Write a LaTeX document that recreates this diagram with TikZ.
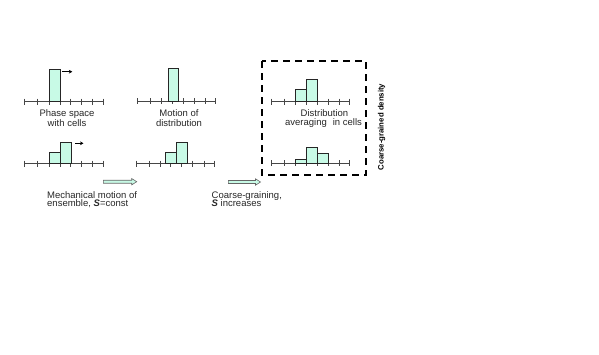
\documentclass[tikz,border=0pt]{standalone}
\usepackage{fontspec}
\setmainfont{Liberation Sans}
\usetikzlibrary{arrows.meta}
\definecolor{barfill}{RGB}{200,250,230}
\definecolor{axisgray}{RGB}{70,70,70}
\tikzset{
  axisline/.style={draw=axisgray, line width=0.8pt},
  bar/.style={draw=black!85, line width=0.8pt, fill=barfill},
  lbl/.style={font=\fontsize{9.5}{10}\selectfont, inner sep=0pt, text=black!85},
  hollow/.style={draw=black!60, fill=barfill, line width=0.6pt},
  movearrow/.style={draw=black, line width=0.8pt, -{Stealth[length=3.5pt,width=3.8pt]}},
  dashbox/.style={draw=black, line width=2.1pt, dash pattern=on 7pt off 5pt}
}
\newcommand{\drawaxis}[4]{% y, first x, last x, tick list
  \draw[axisline] (#2,#1) -- (#3,#1);
  \foreach \tx in {#4} { \draw[axisline] (\tx,#1-3) -- (\tx,#1+3); }
}
\newcommand{\hollowarrow}[3]{% x0, x1, y
  \draw[hollow] (#1,#3-1.5) -- (#2-5,#3-1.5) -- (#2-5,#3-3.2) -- (#2,#3)
    -- (#2-5,#3+3.2) -- (#2-5,#3+1.5) -- (#1,#3+1.5) -- cycle;
}
\begin{document}
\begin{tikzpicture}[x=1pt,y=-1pt]
\useasboundingbox (0,0) rectangle (599,354);

% --- top left: phase space with cells
\drawaxis{101.5}{24.5}{103.3}{24.5,37.8,49.3,60,70.8,81.7,92.7,103.3}
\draw[bar] (49.3,101.5) rectangle (60,69);
\coordinate (m1s) at (62.3,71.7);
\coordinate (m1e) at (72.3,71.7);
\draw[movearrow] (m1s) -- (m1e);
\node[lbl, anchor=base] (t1a) at (67,116) {Phase space};
\node[lbl, anchor=base] (t1b) at (67,126) {with cells};

% --- top middle: motion of distribution
\drawaxis{101}{137.3}{215.7}{137.3,150.7,161.7,172.3,183.3,194,205,215.7}
\draw[bar] (168.3,101) rectangle (178.3,68.3);
\node[lbl, anchor=base] (t2a) at (179,116) {Motion of};
\node[lbl, anchor=base] (t2b) at (179,126) {distribution};

% --- bottom left
\drawaxis{163.5}{24.5}{103.3}{24.5,37.8,49.3,60,70.8,81.7,92.7,103.3}
\draw[bar] (49.3,163.5) rectangle (60,152.7);
\draw[bar] (60,163.5) rectangle (71,142.3);
\coordinate (m2s) at (75,143.3);
\coordinate (m2e) at (83.5,143.3);
\draw[movearrow] (m2s) -- (m2e);

% --- bottom middle
\drawaxis{163.5}{136}{214}{136,149,160,170.7,181.7,192.7,204,214}
\draw[bar] (165.7,163.5) rectangle (176,152.7);
\draw[bar] (176,163.5) rectangle (187.3,142.3);

% --- right: coarse-grained (inside dashed box)
\drawaxis{101.7}{271.7}{349.3}{271.7,284.3,295.7,306.7,317.3,328.3,339.3,349.3}
\draw[bar] (295.7,101.7) rectangle (306.7,89.3);
\draw[bar] (306.7,101.7) rectangle (317.3,79);
\node[lbl, anchor=base] (t3a) at (324.5,116) {Distribution};
\node[lbl, anchor=base] (t3b) at (323.5,125.5) {averaging\hspace{6pt}in cells};

\drawaxis{163.3}{271.7}{349.3}{271.7,284.3,295.7,306.7,317.3,328.3,339.3,349.3}
\draw[bar] (295.7,163.3) rectangle (306.7,159);
\draw[bar] (306.7,163.3) rectangle (317.3,147.3);
\draw[bar] (317.3,163.3) rectangle (328.3,153.3);

\draw[dashbox] (262.3,61) rectangle (366,175);
\node[lbl, rotate=90, font=\bfseries\fontsize{7.8}{9}\selectfont, text=black] (cgd) at (381.7,127) {Coarse-grained density};

% --- bottom arrows and captions
\hollowarrow{103.3}{136.7}{181.7}
\hollowarrow{228.3}{260.5}{182}
\node[lbl, anchor=base west] (c1a) at (47,198) {Mechanical motion of};
\node[lbl, anchor=base west] (c1b) at (47,206.8) {ensemble, \textbf{\textit{S}}=const};
\node[lbl, anchor=base west] (c2a) at (211.5,198) {Coarse-graining,};
\node[lbl, anchor=base west] (c2b) at (211.5,206.8) {\textbf{\textit{S}} increases};
\end{tikzpicture}
\end{document}
